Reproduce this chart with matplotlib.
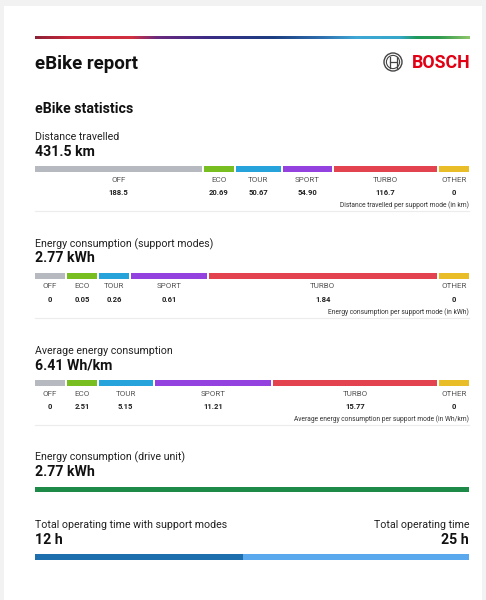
import numpy as np
import matplotlib
matplotlib.use('Agg')
from matplotlib import pyplot as plt
from matplotlib.colors import LinearSegmentedColormap
from matplotlib.patches import Rectangle, Circle

plt.rcParams['font.family'] = ['Roboto', 'DejaVu Sans']

# support modes and their values
modes = ['OFF', 'ECO', 'TOUR', 'SPORT', 'TURBO', 'OTHER']
mode_colors = ['#b6bac0', '#78be20', '#25a3da', '#9342e0', '#e2434f', '#e8bd28']

distance = [188.5, 20.69, 50.67, 54.90, 116.7, 0]
distance_text = ['188.5', '20.69', '50.67', '54.90', '116.7', '0']

energy = [0, 0.05, 0.26, 0.61, 1.84, 0]
energy_text = ['0', '0.05', '0.26', '0.61', '1.84', '0']

avg_energy = [0, 2.51, 5.15, 11.21, 15.77, 0]
avg_energy_text = ['0', '2.51', '5.15', '11.21', '15.77', '0']

drive_unit_kwh = 2.77
support_hours = 12
total_hours = 25

# page layout (pixels)
X0, X1 = 35, 469
GAP = 2
MIN_W = 30

fig = plt.figure(figsize=(4.86, 6.0), dpi=100, facecolor='#f2f2f2')
ax = fig.add_axes([0, 0, 1, 1])
ax.set_xlim(0, 486)
ax.set_ylim(600, 0)
ax.axis('off')

# white card
ax.add_patch(Rectangle((4, 6), 478, 600, facecolor='white', edgecolor='none'))

# bosch supergraphic line
grad = LinearSegmentedColormap.from_list('bosch', [
    (0.0, '#8c2236'), (0.08, '#c8283b'), (0.22, '#d2313f'), (0.28, '#6a2a7e'),
    (0.40, '#3b2c86'), (0.55, '#1c3f82'), (0.66, '#2f6fb0'), (0.74, '#3fa8d6'),
    (0.84, '#35a7c9'), (0.88, '#1f9a5a'), (0.93, '#2f9a50'), (1.0, '#8cc56a')])
ax.imshow(np.linspace(0, 1, 256)[None, :], cmap=grad, aspect='auto',
          extent=(X0, X1, 39.2, 36.4), zorder=2)

ax.text(X0, 64, 'eBike report', fontsize=13.5, fontweight='bold', va='center', color='#111')

# bosch logo
ax.add_patch(Circle((393, 62), 9, fill=False, lw=1.0, ec='#444', zorder=3))
ax.add_patch(Circle((393, 62), 6.6, fill=False, lw=0.8, ec='#444', zorder=3))
ax.plot([389.5, 389.5], [56.5, 67.5], color='#444', lw=0.9)
ax.plot([396.5, 396.5], [56.5, 67.5], color='#444', lw=0.9)
ax.plot([389.5, 396.5], [62, 62], color='#444', lw=0.9)
ax.text(X1 + 1, 63, 'BOSCH', fontsize=12.8, fontweight='bold', color='#e20015',
        ha='right', va='center')

ax.text(X0, 109, 'eBike statistics', fontsize=10.2, fontweight='bold', va='center', color='#111')


def seg_widths(vals):
    avail = (X1 - X0) - GAP * (len(vals) - 1)
    tot = sum(vals)
    small = [v / tot < 0.10 for v in vals]
    rest = avail - MIN_W * sum(small)
    big_tot = sum(v for v, s in zip(vals, small) if not s)
    return [MIN_W if s else v / big_tot * rest for v, s in zip(vals, small)]


def mode_section(y, title, total, vals, texts, note):
    ax.text(X0, y, title, fontsize=7.7, va='center', color='#222')
    ax.text(X0, y + 14.5, total, fontsize=10.2, fontweight='bold', va='center', color='#111')
    bar_y = y + 31.5
    w = seg_widths(vals)
    lefts = X0 + np.concatenate([[0], np.cumsum(np.array(w) + GAP)[:-1]])
    ax.barh([bar_y] * len(vals), w, left=lefts, height=6, color=mode_colors, zorder=2)
    for l, wi, m, t in zip(lefts, w, modes, texts):
        cx = l + wi / 2
        ax.text(cx, bar_y + 11, m, fontsize=5.8, ha='center', va='center', color='#555')
        ax.text(cx, bar_y + 24, t, fontsize=5.5, fontweight='bold', ha='center',
                va='center', color='#222')
    ax.text(X1, bar_y + 36.5, note, fontsize=4.8, ha='right', va='center', color='#333')
    ax.plot([X0, X1], [bar_y + 42.5, bar_y + 42.5], color='#ececec', lw=0.8)


mode_section(137, 'Distance travelled', '431.5 km', distance, distance_text,
             'Distance travelled per support mode (in km)')
mode_section(244, 'Energy consumption (support modes)', '2.77 kWh', energy, energy_text,
             'Energy consumption per support mode (in kWh)')
mode_section(351, 'Average energy consumption', '6.41 Wh/km', avg_energy, avg_energy_text,
             'Average energy consumption per support mode (in Wh/km)')

# drive unit
ax.text(X0, 457, 'Energy consumption (drive unit)', fontsize=7.7, va='center', color='#222')
ax.text(X0, 472, f'{drive_unit_kwh:.2f} kWh', fontsize=10.2, fontweight='bold',
        va='center', color='#111')
ax.barh([489.5], [X1 - X0], left=X0, height=5.6, color='#1e8a48')

# operating time
ax.text(X0, 525, 'Total operating time with support modes', fontsize=7.7, va='center', color='#222')
ax.text(X1, 525, 'Total operating time', fontsize=7.7, va='center', ha='right', color='#222')
ax.text(X0, 539.5, f'{support_hours} h', fontsize=10.2, fontweight='bold', va='center', color='#111')
ax.text(X1, 539.5, f'{total_hours} h', fontsize=10.2, fontweight='bold', va='center',
        ha='right', color='#111')
frac = support_hours / total_hours
ax.barh([557], [(X1 - X0) * frac], left=X0, height=5.6, color='#1c6ead')
ax.barh([557], [(X1 - X0) * (1 - frac)], left=X0 + (X1 - X0) * frac, height=5.6, color='#5aa9ee')

plt.savefig('out.png', dpi=100, facecolor=fig.get_facecolor())
